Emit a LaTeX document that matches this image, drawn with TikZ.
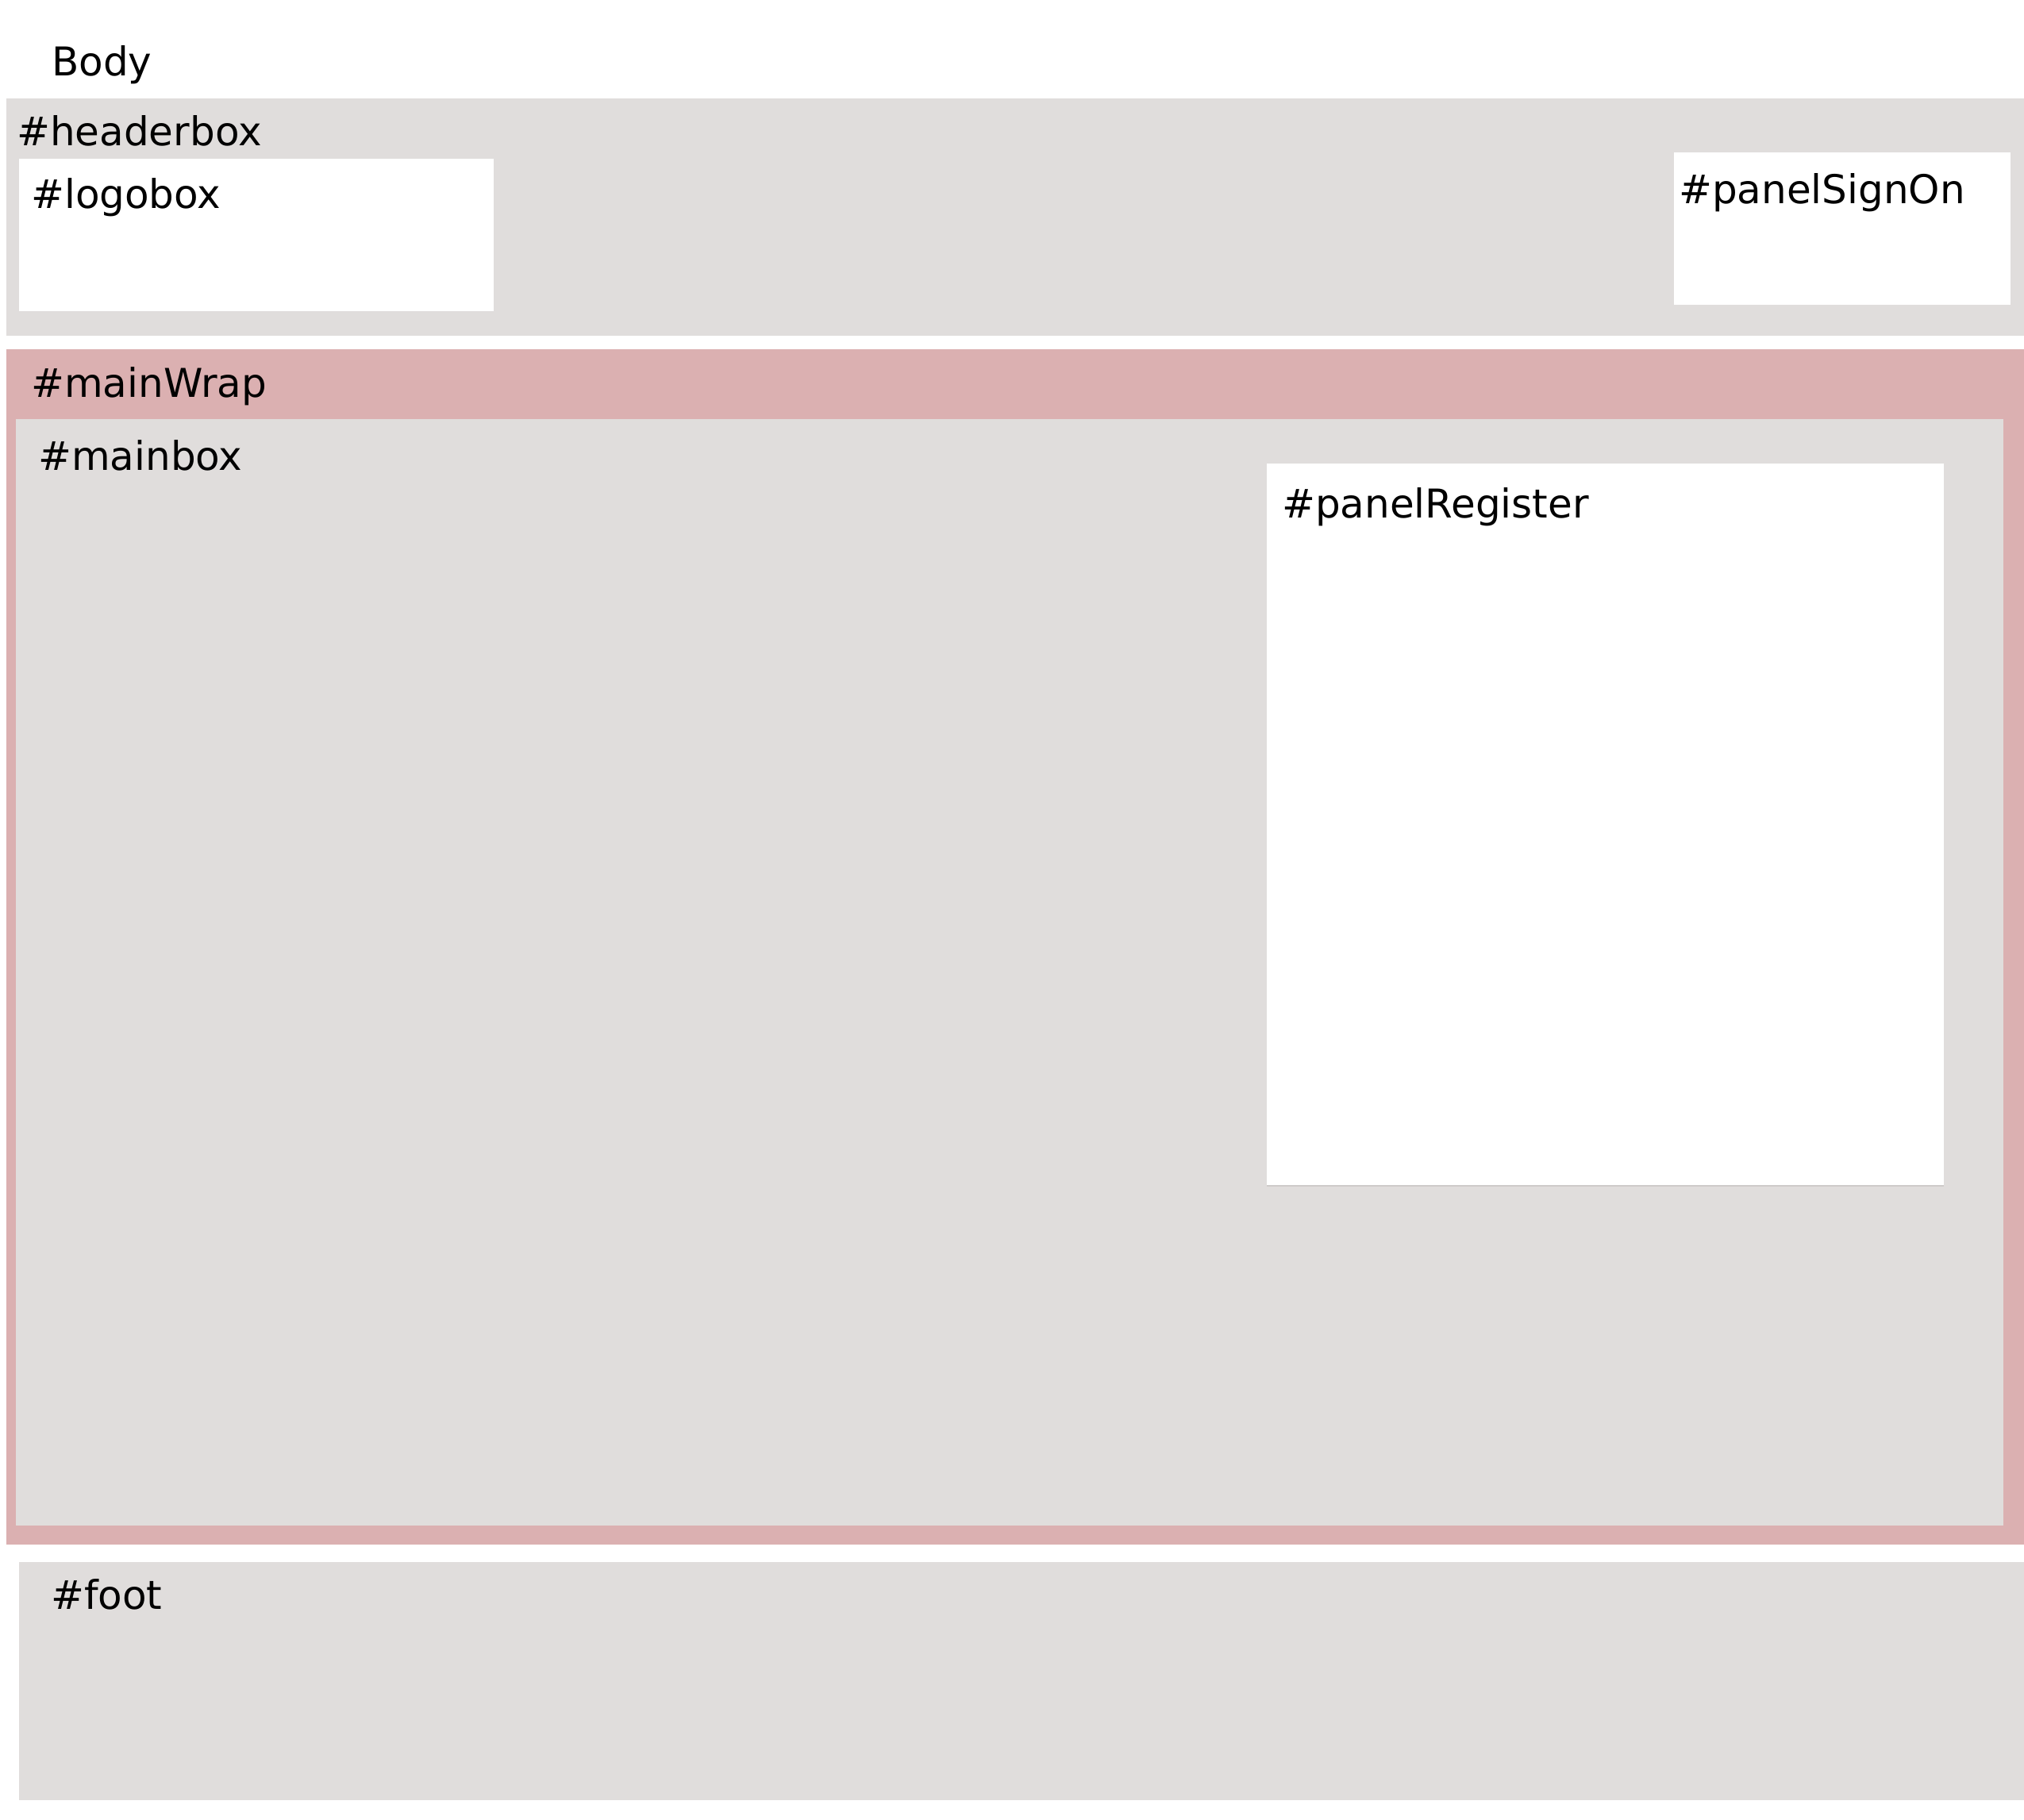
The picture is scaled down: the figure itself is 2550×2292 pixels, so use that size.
\documentclass[tikz,border=0pt]{standalone}
\usepackage{fontspec}
\setmainfont{DejaVu Sans}
\definecolor{boxgray}{RGB}{224,221,220}
\definecolor{wrappink}{RGB}{219,176,177}
\begin{document}
\begin{tikzpicture}[x=1pt,y=-1pt,
  area/.style={draw=none,inner sep=0pt,outer sep=0pt,anchor=north west},
  lbl/.style={inner sep=0pt,anchor=base west,font=\fontsize{50}{60}\selectfont}]
\useasboundingbox[fill=white] (0,0) rectangle (2550,2292);
% header
\node[area,fill=boxgray,minimum width=2542pt,minimum height=299pt] (headerbox) at (8,124) {};
\node[area,fill=white,minimum width=598pt,minimum height=192pt] (logobox) at (24,200) {};
\node[area,fill=white,minimum width=424pt,minimum height=192pt] (panelSignOn) at (2109,192) {};
% main wrap
\node[area,fill=wrappink,minimum width=2542pt,minimum height=1506pt] (mainWrap) at (8,440) {};
\node[area,fill=boxgray,minimum width=2504pt,minimum height=1394pt] (mainbox) at (20,528) {};
\node[area,fill=white,minimum width=853pt,minimum height=910pt] (panelRegister) at (1596,584) {};
\draw[boxgray!92!black,line width=2pt] (panelRegister.south west) -- (panelRegister.south east);
% foot
\node[area,fill=boxgray,minimum width=2526pt,minimum height=300pt] (foot) at (24,1968) {};
% labels
\node[lbl] (tBody) at (65,95) {Body};
\node[lbl] (tHeader) at (21,183) {\#headerbox};
\node[lbl] (tLogo) at (39,262) {\#logobox};
\node[lbl] (tSign) at (2115,256) {\#panelSignOn};
\node[lbl] (tWrap) at (39,500) {\#mainWrap};
\node[lbl] (tMain) at (48,592) {\#mainbox};
\node[lbl] (tReg) at (1615,652) {\#panelRegister};
\node[lbl] (tFoot) at (64,2027) {\#foot};
\end{tikzpicture}
\end{document}
